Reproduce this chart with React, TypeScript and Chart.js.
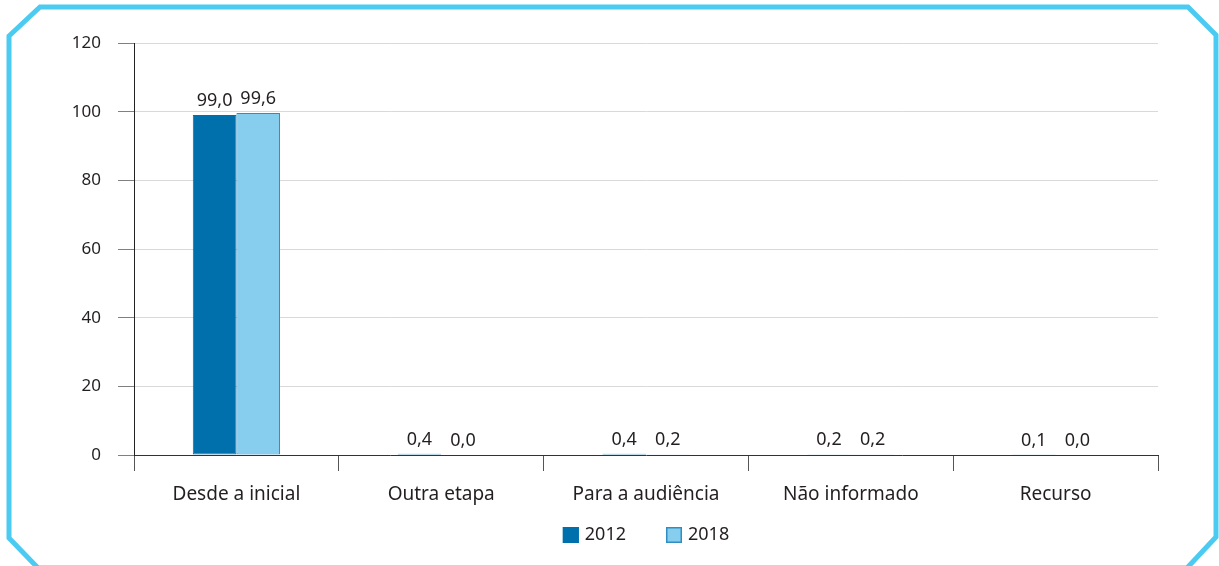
import React, { useEffect, useRef } from "react";
import { Chart, registerables } from "chart.js";

Chart.register(...registerables);

const categories = ["Desde a inicial", "Outra etapa", "Para a audiência", "Não informado", "Recurso"];
const values2012 = [99.0, 0.4, 0.4, 0.2, 0.1];
const values2018 = [99.6, 0.0, 0.2, 0.2, 0.0];
const seriesLabels = ["2012", "2018"];
const yMin = 0;
const yMax = 120;
const yStep = 20;

const FONT = "'Noto Sans', 'Open Sans', sans-serif";
const TEXT = "#231f20";

const framePlugin = {
  id: "frame",
  beforeDraw(chart: any) {
    const ctx = chart.ctx;
    ctx.save();
    ctx.strokeStyle = "#4ccbf2";
    ctx.lineWidth = 5;
    ctx.lineJoin = "miter";
    ctx.beginPath();
    ctx.moveTo(9, 36);
    ctx.lineTo(40, 7);
    ctx.lineTo(1188, 7);
    ctx.lineTo(1216, 35);
    ctx.lineTo(1216, 537);
    ctx.lineTo(1187, 568);
    ctx.lineTo(38, 568);
    ctx.lineTo(9, 538);
    ctx.closePath();
    ctx.stroke();
    ctx.restore();
  },
};

const valueLabelPlugin = {
  id: "valueLabels",
  afterDatasetsDraw(chart: any) {
    const ctx = chart.ctx;
    ctx.save();
    ctx.font = `18px ${FONT}`;
    ctx.fillStyle = TEXT;
    ctx.textAlign = "center";
    ctx.textBaseline = "alphabetic";
    chart.data.datasets.forEach((ds: any, di: number) => {
      const meta = chart.getDatasetMeta(di);
      meta.data.forEach((bar: any, i: number) => {
        const v = ds.data[i] as number;
        ctx.fillText(v.toFixed(1).replace(".", ","), bar.x, bar.y - 9);
      });
    });
    ctx.restore();
  },
};

// Legend drawn on the canvas, centred under the chart area, from the datasets
const legendPlugin = {
  id: "customLegend",
  afterDraw(chart: any) {
    const ctx = chart.ctx;
    const area = chart.chartArea;
    const box = 16;
    const textGap = 6;
    const itemGap = 40;
    ctx.save();
    ctx.font = `18px ${FONT}`;
    const items = chart.data.datasets.map((ds: any) => ({
      text: ds.label,
      fill: ds.backgroundColor,
      stroke: ds.borderColor,
      w: box + textGap + ctx.measureText(ds.label).width,
    }));
    const total = items.reduce((s: number, it: any) => s + it.w, 0) + itemGap * (items.length - 1);
    let x = (area.left + area.right) / 2 - total / 2;
    const cy = 535;
    items.forEach((it: any) => {
      ctx.fillStyle = it.fill;
      ctx.fillRect(x, cy - box / 2, box, box);
      ctx.strokeStyle = it.stroke;
      ctx.lineWidth = 1.5;
      ctx.strokeRect(x + 0.75, cy - box / 2 + 0.75, box - 1.5, box - 1.5);
      ctx.fillStyle = TEXT;
      ctx.textAlign = "left";
      ctx.textBaseline = "middle";
      ctx.fillText(it.text, x + box + textGap, cy);
      x += it.w + itemGap;
    });
    ctx.restore();
  },
};

export default function App() {
  const canvasRef = useRef<HTMLCanvasElement | null>(null);

  useEffect(() => {
    if (!canvasRef.current) return;
    const chart = new Chart(canvasRef.current, {
      type: "bar",
      data: {
        labels: categories,
        datasets: [
          {
            label: seriesLabels[0],
            data: values2012,
            backgroundColor: "#0070ad",
            borderColor: "#0070ad",
            borderWidth: 1,
            borderSkipped: false,
            categoryPercentage: 0.426,
            barPercentage: 1,
          },
          {
            label: seriesLabels[1],
            data: values2018,
            backgroundColor: "#87ceee",
            borderColor: "#2f8fc4",
            borderWidth: 1,
            borderSkipped: false,
            categoryPercentage: 0.426,
            barPercentage: 1,
          },
        ] as any,
      },
      options: {
        animation: false,
        responsive: false,
        maintainAspectRatio: false,
        layout: { padding: { left: 0, top: 43, right: 61, bottom: 51 } },
        plugins: {
          tooltip: { enabled: false },
          legend: { display: false },
        },
        scales: {
          x: {
            afterFit(scale: any) {
              scale.height = 60;
            },
            grid: {
              offset: true,
              drawOnChartArea: true,
              color: (c: any) => (c.index === categories.length ? "#cfcfcf" : "rgba(0,0,0,0)"),
              tickColor: "#555555",
              tickLength: 16,
            },
            border: { color: "#333333", width: 1 },
            ticks: {
              color: TEXT,
              padding: 12,
              maxRotation: 0,
              autoSkip: false,
              font: { family: FONT, size: 19 },
            },
          },
          y: {
            min: yMin,
            max: yMax,
            afterFit(scale: any) {
              scale.width = 134;
            },
            grid: {
              color: (c: any) => (c.tick && c.tick.value === 0 ? "rgba(0,0,0,0)" : "#d9d9d9"),
              tickColor: "#808080",
              tickLength: 16,
            },
            border: { color: "#222222", width: 1 },
            ticks: {
              stepSize: yStep,
              color: TEXT,
              padding: 17,
              font: { family: FONT, size: 17 },
            },
          },
        },
      },
      plugins: [framePlugin, valueLabelPlugin, legendPlugin],
    });
    return () => chart.destroy();
  }, []);

  return (
    <div style={{ position: "absolute", left: 0, top: 0, width: 1219, height: 566, background: "#ffffff" }}>
      <canvas ref={canvasRef} width={1219} height={566} style={{ display: "block" }} />
    </div>
  );
}
